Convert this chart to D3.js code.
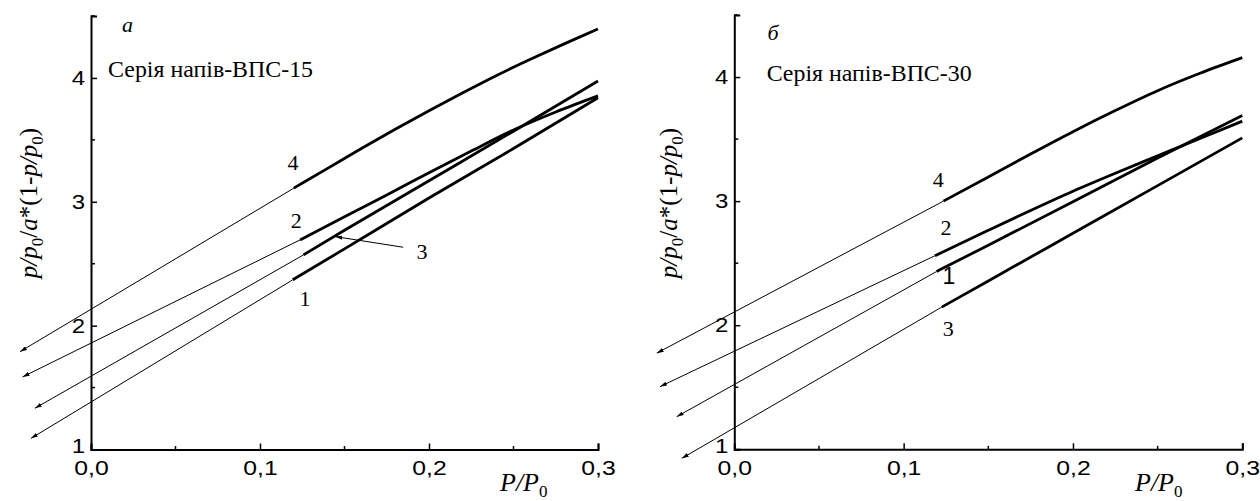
<!DOCTYPE html>
<html><head><meta charset="utf-8">
<script src="https://cdn.jsdelivr.net/npm/d3@7"></script>
<style>
body{margin:0;background:#fff;}
svg{display:block;}
</style></head>
<body>
<svg id="c" width="1260" height="501"></svg>
<script>
// ---------- data ----------
const xTickValues = [0, 0.1, 0.2, 0.3];
const xTickLabels = ["0,0", "0,1", "0,2", "0,3"];
const xMinorTicks = [0.05, 0.15, 0.25];
const yTickValues = [1, 2, 3, 4];
const yTickLabels = ["1", "2", "3", "4"];
const yMinorTicks = [1.5, 2.5, 3.5, 4.5];

const panelLetters = ["а", "б"];
const panelTitles = ["Серія напів-ВПС-15", "Серія напів-ВПС-30"];
const seriesNames = ["1", "2", "3", "4"];

// panel a: measured curves (x, y)
const a_curve1_x = [0.1194, 0.15, 0.2, 0.25, 0.3];
const a_curve1_y = [2.37, 2.62, 3.03, 3.43, 3.84];
const a_curve2_x = [0.1237, 0.15, 0.175, 0.2, 0.225, 0.25, 0.275, 0.3];
const a_curve2_y = [2.692, 2.88, 3.055, 3.235, 3.41, 3.58, 3.725, 3.855];
const a_curve3_x = [0.1257, 0.15, 0.2, 0.25, 0.3];
const a_curve3_y = [2.571, 2.77, 3.17, 3.57, 3.975];
const a_curve4_x = [0.12, 0.14, 0.16, 0.18, 0.2, 0.22, 0.24, 0.26, 0.28, 0.3];
const a_curve4_y = [3.11, 3.27, 3.43, 3.585, 3.735, 3.88, 4.02, 4.15, 4.275, 4.395];
// extrapolation arrow tips (x, y) for series 1..4
const a_tip_x = [-0.0355, -0.0405, -0.0332, -0.042];
const a_tip_y = [1.09, 1.586, 1.333, 1.79];

// panel b
const b_curve1_x = [0.1195, 0.15, 0.2, 0.25, 0.3];
const b_curve1_y = [2.433, 2.645, 2.995, 3.347, 3.69];
const b_curve2_x = [0.1185, 0.15, 0.175, 0.2, 0.225, 0.25, 0.275, 0.3];
const b_curve2_y = [2.56, 2.765, 2.925, 3.08, 3.225, 3.365, 3.505, 3.644];
const b_curve3_x = [0.1225, 0.15, 0.2, 0.25, 0.3];
const b_curve3_y = [2.146, 2.357, 2.741, 3.125, 3.51];
const b_curve4_x = [0.1235, 0.15, 0.175, 0.2, 0.225, 0.25, 0.275, 0.3];
const b_curve4_y = [3.0, 3.195, 3.38, 3.56, 3.73, 3.89, 4.03, 4.156];
const b_tip_x = [-0.034, -0.0439, -0.031, -0.0458];
const b_tip_y = [1.263, 1.505, 0.927, 1.775];

// label anchor positions in data units (series 1..4)
const a_label_x = [0.1267, 0.1214, 0.1958, 0.1196];
const a_label_y = [2.216, 2.846, 2.598, 3.315];
const b_label_x = [0.1268, 0.125, 0.1264, 0.1205];
const b_label_y = [2.399, 2.786, 1.977, 3.174];

// ---------- drawing ----------
const svg = d3.select("#c");
const defs = svg.append("defs");
defs.append("marker").attr("id","arr").attr("viewBox","0 0 10 6")
  .attr("refX",10).attr("refY",3).attr("markerWidth",7).attr("markerHeight",4.2)
  .attr("markerUnits","userSpaceOnUse").attr("orient","auto")
  .append("path").attr("d","M0,0L10,3L0,6Z").attr("fill","#000");

const SERIF = "'Liberation Serif','Times New Roman',serif";
const SANS = "'Liberation Sans',Arial,sans-serif";

const panels = [
  {x0: 91, x1: 598, yb: 449.5, yt: 16, letterPos:[0.0216,4.43], titlePos:[0.0101,4.009], ylabX: 29, xlabX: 500,
   curves: [[a_curve1_x,a_curve1_y],[a_curve2_x,a_curve2_y],[a_curve3_x,a_curve3_y],[a_curve4_x,a_curve4_y]],
   tipx: a_tip_x, tipy: a_tip_y, lx: a_label_x, ly: a_label_y, sansOne:false,
   pointer: {from:[0.1847,2.633], to:[0.1445,2.719]}},
  {x0: 734.3, x1: 1242.3, yb: 449.3, yt: 15, letterPos:[0.0229,4.36], titlePos:[0.0191,3.965], ylabX: 669, xlabX: 1135,
   curves: [[b_curve1_x,b_curve1_y],[b_curve2_x,b_curve2_y],[b_curve3_x,b_curve3_y],[b_curve4_x,b_curve4_y]],
   tipx: b_tip_x, tipy: b_tip_y, lx: b_label_x, ly: b_label_y, sansOne:true, pointer:null}
];

panels.forEach((p, pi) => {
  const x = d3.scaleLinear().domain([0, 0.3]).range([p.x0, p.x1]);
  const y = d3.scaleLinear().domain([1, 4.5]).range([p.yb, p.yt]);
  const g = svg.append("g");

  // axes
  const xAxis = d3.axisBottom(x).tickValues(xTickValues)
    .tickFormat((d,i)=>xTickLabels[i]).tickSize(-6).tickPadding(11);
  const gx = g.append("g").attr("transform",`translate(0,${p.yb})`).call(xAxis);
  gx.selectAll("text").attr("font-family",SANS).attr("font-size",21).attr("fill","#000")
    .attr("transform","scale(1.18,1)");
  const yAxis = d3.axisLeft(y).tickValues(yTickValues)
    .tickFormat((d,i)=>yTickLabels[i]).tickSize(-6).tickPadding(5);
  const gy = g.append("g").attr("transform",`translate(${p.x0},0)`).call(yAxis);
  gy.selectAll("text").attr("font-family",SANS).attr("font-size",20).attr("fill","#000")
    .attr("transform","scale(1.2,1)");
  gy.selectAll(".tick").filter(d=>d===1).select("text").attr("dy","0.15em");
  [gx, gy].forEach(a => {
    a.select(".domain").attr("stroke","#000").attr("stroke-width",2);
    a.selectAll(".tick line").attr("stroke","#000").attr("stroke-width",1.5);
  });
  // minor ticks
  g.selectAll(".mx").data(xMinorTicks).join("line")
    .attr("x1",d=>x(d)).attr("x2",d=>x(d)).attr("y1",p.yb).attr("y2",p.yb-3.5)
    .attr("stroke","#000").attr("stroke-width",1.5);
  g.selectAll(".my").data(yMinorTicks).join("line")
    .attr("x1",p.x0).attr("x2",p.x0+4).attr("y1",d=>y(d)).attr("y2",d=>y(d))
    .attr("stroke","#000").attr("stroke-width",1.5);

  // curves
  const line = d3.line().x(d=>x(d[0])).y(d=>y(d[1])).curve(d3.curveMonotoneX);
  p.curves.forEach((c, ci) => {
    const pts = c[0].map((xv,i)=>[xv, c[1][i]]);
    g.append("path").attr("d", line(pts)).attr("fill","none")
      .attr("stroke","#000").attr("stroke-width",2.8).attr("stroke-linecap","butt");
    // thin extrapolation line with arrow
    g.append("line").attr("x1",x(pts[0][0])).attr("y1",y(pts[0][1]))
      .attr("x2",x(p.tipx[ci])).attr("y2",y(p.tipy[ci]))
      .attr("stroke","#000").attr("stroke-width",1).attr("marker-end","url(#arr)");
    // series label
    const useSans = p.sansOne && ci===0;
    g.append("text").attr("x",x(p.lx[ci])).attr("y",y(p.ly[ci]))
      .attr("text-anchor","middle").attr("dominant-baseline","central")
      .attr("font-family", useSans?SANS:SERIF).attr("font-size", useSans?23:22)
      .text(seriesNames[ci]);
  });

  if (p.pointer) {
    g.append("line").attr("x1",x(p.pointer.from[0])).attr("y1",y(p.pointer.from[1]))
      .attr("x2",x(p.pointer.to[0])).attr("y2",y(p.pointer.to[1]))
      .attr("stroke","#000").attr("stroke-width",1).attr("marker-end","url(#arr)");
  }

  // panel letter & title
  g.append("text").attr("x",x(p.letterPos[0])).attr("y",y(p.letterPos[1]))
    .attr("text-anchor","middle").attr("dominant-baseline","central")
    .attr("font-family",SERIF).attr("font-style","italic").attr("font-size",22)
    .text(panelLetters[pi]);
  g.append("text").attr("x",x(p.titlePos[0])).attr("y",y(p.titlePos[1]))
    .attr("font-family",SERIF).attr("font-size",23)
    .attr("textLength",205).attr("lengthAdjust","spacingAndGlyphs")
    .text(panelTitles[pi]);

  // y label
  const yl = g.append("text").attr("transform",`translate(${p.ylabX+8},${203}) rotate(-90)`)
    .attr("text-anchor","middle").attr("font-family",SERIF).attr("font-size",25);
  const parts = [["p/p",true,false],["0",false,true],["/",false,false],["a",true,false],["*(1-",false,false],["p/p",true,false],["0",false,true],[")",false,false]];
  let prevSub = false;
  parts.forEach(([t,it,sub])=>{
    const ts = yl.append("tspan").text(t).attr("font-style",it?"italic":"normal");
    if (sub) { ts.attr("font-size",17).attr("dy",6); }
    else if (prevSub) { ts.attr("dy",-6); }
    prevSub = sub;
  });

  // x label
  const xl = g.append("text").attr("x",p.xlabX).attr("y",491)
    .attr("font-family",SERIF).attr("font-size",26);
  xl.append("tspan").text("P/P").attr("font-style","italic");
  xl.append("tspan").text("0").attr("font-size",17).attr("dy",6);
});
</script>
</body></html>
